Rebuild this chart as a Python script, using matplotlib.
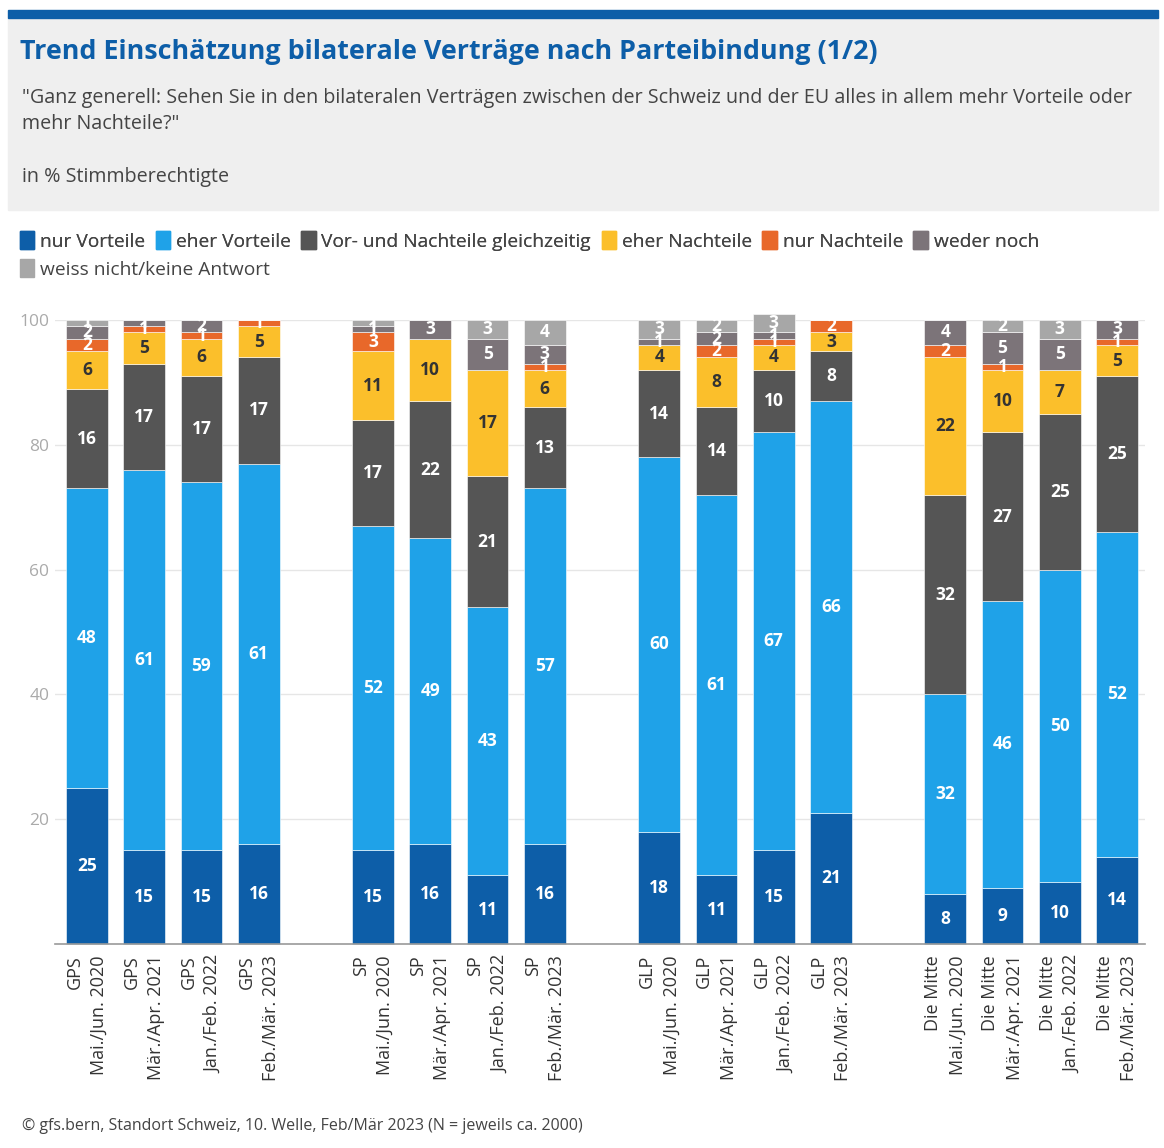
import numpy as np
import matplotlib
matplotlib.use("Agg")
from matplotlib import pyplot as plt
from matplotlib.patches import Rectangle, Patch

plt.rcParams['font.family'] = ['Open Sans', 'DejaVu Sans']

# Daten (in %), Reihenfolge von unten nach oben
parteien = ["GPS", "SP", "GLP", "Die Mitte"]
wellen = ["Mai./Jun. 2020", "Mär./Apr. 2021", "Jan./Feb. 2022", "Feb./Mär. 2023"]

serien = ["nur Vorteile", "eher Vorteile", "Vor- und Nachteile gleichzeitig",
          "eher Nachteile", "nur Nachteile", "weder noch", "weiss nicht/keine Antwort"]
farben = ["#0d5ea8", "#1fa2e8", "#555555", "#fbbf2b", "#e8682a", "#7c7479", "#a7a7a7"]
textfarben = ["white", "white", "white", "#333333", "white", "white", "white"]

nur_vorteile   = [25, 15, 15, 16,  15, 16, 11, 16,  18, 11, 15, 21,   8,  9, 10, 14]
eher_vorteile  = [48, 61, 59, 61,  52, 49, 43, 57,  60, 61, 67, 66,  32, 46, 50, 52]
beides         = [16, 17, 17, 17,  17, 22, 21, 13,  14, 14, 10,  8,  32, 27, 25, 25]
eher_nachteile = [ 6,  5,  6,  5,  11, 10, 17,  6,   4,  8,  4,  3,  22, 10,  7,  5]
nur_nachteile  = [ 2,  1,  1,  1,   3,  0,  0,  1,   0,  2,  1,  2,   2,  1,  0,  1]
weder_noch     = [ 2,  1,  2,  0,   1,  3,  5,  3,   1,  2,  1,  0,   4,  5,  5,  3]
weiss_nicht    = [ 1,  0,  0,  0,   1,  0,  3,  4,   3,  2,  3,  0,   0,  2,  3,  0]

werte = [nur_vorteile, eher_vorteile, beides, eher_nachteile,
         nur_nachteile, weder_noch, weiss_nicht]

labels = [f"{p}\n{w}" for p in parteien for w in wellen]
x = np.array([g * 5 + i for g in range(4) for i in range(4)])

fig = plt.figure(figsize=(11.64, 11.48), dpi=100)

# Kopfbereich
fig.patches.append(Rectangle((8/1164, 1-210/1148), 1150/1164, 192/1148,
                             transform=fig.transFigure, color="#efefef", zorder=0))
fig.patches.append(Rectangle((8/1164, 1-18/1148), 1150/1164, 8/1148,
                             transform=fig.transFigure, color="#0d5ea8", zorder=0))
fig.text(20/1164, 1-52/1148, "Trend Einschätzung bilaterale Verträge nach Parteibindung (1/2)",
         fontsize=19.4, fontweight="bold", color="#0d5ea8", va="center")
fig.text(22/1164, 1-98/1148,
         "\"Ganz generell: Sehen Sie in den bilateralen Verträgen zwischen der Schweiz und der EU alles in allem mehr Vorteile oder",
         fontsize=14.2, color="#444444", va="center")
fig.text(22/1164, 1-124/1148, "mehr Nachteile?\"", fontsize=14.2, color="#444444", va="center")
fig.text(22/1164, 1-177/1148, "in % Stimmberechtigte", fontsize=14.2, color="#444444", va="center")

ax = fig.add_axes([55/1164, 1-944/1148, 1090/1164, 624/1148])

unten = np.zeros(len(x))
for s, vals in enumerate(werte):
    vals = np.array(vals)
    ax.bar(x, vals, bottom=unten, width=0.73, color=farben[s],
           edgecolor="white", linewidth=0.4, clip_on=False, zorder=3)
    for xi, b, v in zip(x, unten, vals):
        if v > 0:
            ax.text(xi, b + v / 2, str(v), ha="center", va="center", fontsize=12.5,
                    fontweight="bold", color=textfarben[s], zorder=4, clip_on=False)
    unten += vals

ax.set_xlim(-0.56, 18.49)
ax.set_ylim(0, 100)
ax.set_yticks([20, 40, 60, 80, 100])
ax.tick_params(axis="y", length=0, labelsize=12.5, labelcolor="#aaaaaa", pad=4)
ax.grid(axis="y", color="#e6e6e6", linewidth=1, zorder=0)
ax.set_xticks(x)
ax.set_xticklabels(labels, rotation=90, ha="center", va="top", multialignment="right",
                   fontsize=13, color="#333333", linespacing=1.45)
ax.tick_params(axis="x", length=0, pad=8)
for sp in ["top", "right", "left"]:
    ax.spines[sp].set_visible(False)
ax.spines["bottom"].set_color("#999999")
ax.spines["bottom"].set_linewidth(1.2)
ax.spines["bottom"].set_zorder(5)

# Legende
h = [Patch(color=farben[i], label=serien[i]) for i in range(7)]
leg1 = fig.legend(handles=h[:6], loc="center left", bbox_to_anchor=(20/1164, 1-241/1148),
                  ncol=6, frameon=False, fontsize=13.8, handlelength=0.75, handleheight=1.0,
                  handletextpad=0.3, columnspacing=0.55, borderaxespad=0, borderpad=0)
for t in leg1.get_texts():
    t.set_color("#444444")
leg2 = fig.legend(handles=h[6:], loc="center left", bbox_to_anchor=(20/1164, 1-269/1148),
                  frameon=False, fontsize=13.8, handlelength=0.75, handleheight=1.0,
                  handletextpad=0.3, borderaxespad=0, borderpad=0)
for t in leg2.get_texts():
    t.set_color("#444444")
fig.add_artist(leg1)

fig.text(22/1164, 1-1126/1148,
         "© gfs.bern, Standort Schweiz, 10. Welle, Feb/Mär 2023 (N = jeweils ca. 2000)",
         fontsize=11.5, color="#444444", va="center")

plt.savefig("out.png", dpi=100)
